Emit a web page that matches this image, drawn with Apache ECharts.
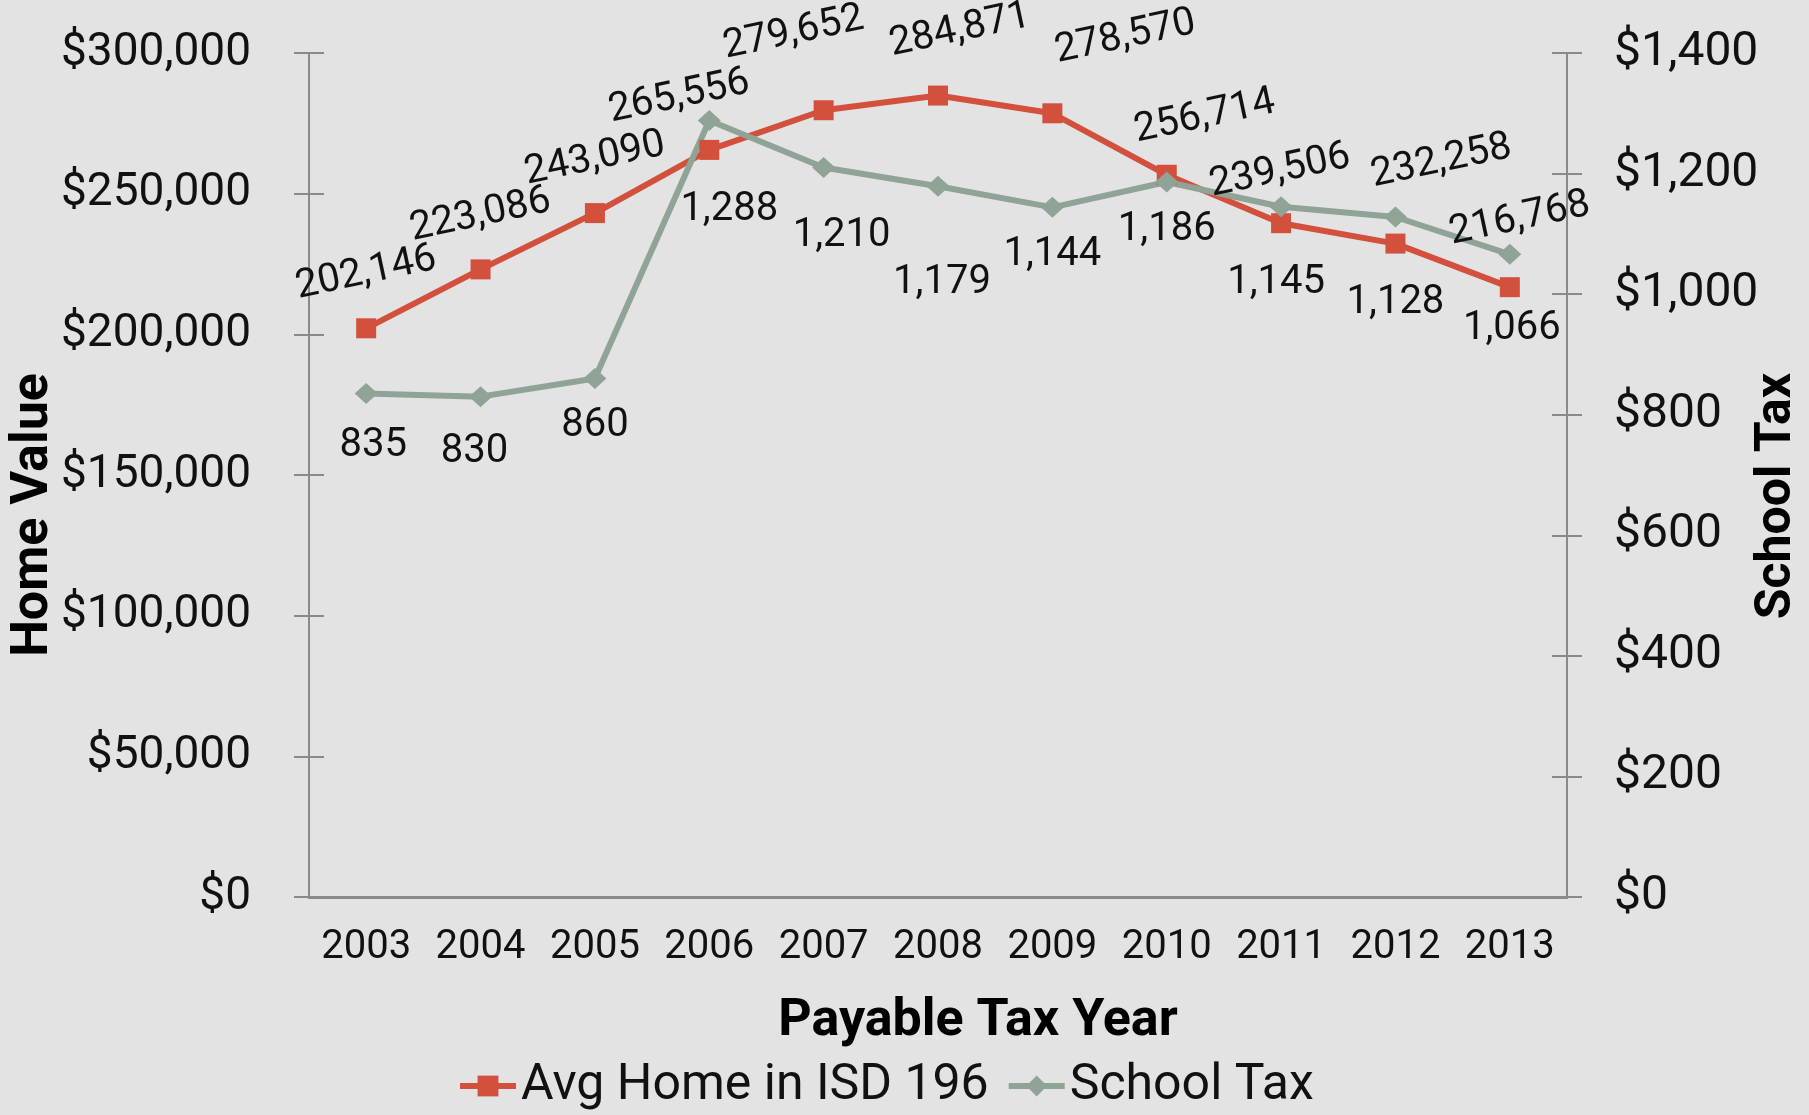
<!DOCTYPE html>
<html>
<head>
<meta charset="utf-8">
<script src="https://cdn.jsdelivr.net/npm/echarts@6/dist/echarts.min.js"></script>
<style>
html, body { margin: 0; padding: 0; background: #e3e3e3; }
#chart { width: 1809px; height: 1115px; }
</style>
</head>
<body>
<div id="chart"></div>
<script>
var years = ['2003', '2004', '2005', '2006', '2007', '2008', '2009', '2010', '2011', '2012', '2013'];
var homeValue = [202146, 223086, 243090, 265556, 279652, 284871, 278570, 256714, 239506, 232258, 216768];
var schoolTax = [835, 830, 860, 1288, 1210, 1179, 1144, 1186, 1145, 1128, 1066];
var homeTicks = [0, 50000, 100000, 150000, 200000, 250000, 300000];
var taxTicks = [0, 200, 400, 600, 800, 1000, 1200, 1400];

// where each data label sits, relative to its point (px)
var homeLabelPos = [[0, -55], [0, -54], [0, -54], [-30, -53], [-30, -77], [22, -65], [73, -76], [38, -58], [-1, -52], [46, -82], [10, -68]];
var taxLabelPos = [[7, 52], [-6, 55], [0, 47], [20, 89], [18, 68], [4, 97], [0, 48], [0, 48], [-5, 76], [0, 86], [2, 75]];

var labelRotate = 12;
var fontFamily = 'Roboto, "Noto Sans", sans-serif';
var axisColor = '#8a8a8a';

function money(v) {
    return '$' + v.toLocaleString('en-US');
}

// offset gets rotated with the label, so undo the rotation first
function unrotate(d, deg) {
    var t = deg * Math.PI / 180;
    return [d[0] * Math.cos(t) - d[1] * Math.sin(t), d[0] * Math.sin(t) + d[1] * Math.cos(t)];
}

var homeData = homeValue.map(function (v, i) {
    return { value: v, label: { offset: unrotate(homeLabelPos[i], labelRotate) } };
});
var taxData = schoolTax.map(function (v, i) {
    return { value: v, label: { offset: taxLabelPos[i] } };
});

var chart = echarts.init(document.getElementById('chart'));

function yAxisBase(ticks) {
    return {
        type: 'value',
        min: ticks[0],
        max: ticks[ticks.length - 1],
        interval: ticks[1] - ticks[0],
        splitLine: { show: false },
        axisLine: { show: true, lineStyle: { color: axisColor, width: 2 } },
        axisTick: { show: true, length: 15, lineStyle: { color: axisColor, width: 2 } }
    };
}

var yHome = yAxisBase(homeTicks);
yHome.position = 'left';
yHome.name = 'Home Value';
yHome.nameLocation = 'middle';
yHome.nameRotate = 90;
yHome.nameGap = 249;
yHome.nameMoveOverlap = false;
yHome.nameTextStyle = { fontFamily: fontFamily, fontSize: 52, fontWeight: 'bold', color: '#000', padding: [0, 80, 0, 0] };
yHome.axisLabel = { formatter: money, fontFamily: fontFamily, fontSize: 46, color: '#111', margin: 58 };

var yTax = yAxisBase(taxTicks);
yTax.position = 'right';
yTax.name = 'School Tax';
yTax.nameLocation = 'middle';
yTax.nameRotate = 90;
yTax.nameGap = 185;
yTax.nameMoveOverlap = false;
yTax.nameTextStyle = { fontFamily: fontFamily, fontSize: 50, fontWeight: 'bold', color: '#000', padding: [0, 42, 0, 0] };
yTax.axisLabel = { formatter: money, fontFamily: fontFamily, fontSize: 48, color: '#111', margin: 47 };

// inner halves of the crossing tick marks
var yHomeIn = yAxisBase(homeTicks);
yHomeIn.position = 'left';
yHomeIn.axisLine = { show: false };
yHomeIn.axisLabel = { show: false };
yHomeIn.axisTick.inside = true;
var yTaxIn = yAxisBase(taxTicks);
yTaxIn.position = 'right';
yTaxIn.axisLine = { show: false };
yTaxIn.axisLabel = { show: false };
yTaxIn.axisTick.inside = true;

var option = {
    backgroundColor: '#e3e3e3',
    animation: false,
    grid: { left: 309, right: 242, top: 53, bottom: 218, containLabel: false, outerBoundsMode: 'none' },
    legend: {
        left: 452,
        top: 1056,
        itemWidth: 56,
        itemHeight: 26,
        itemGap: 17,
        lineStyle: { width: 6 },
        textStyle: { fontFamily: fontFamily, fontSize: 50, color: '#111' },
        data: ['Avg Home in ISD 196', 'School Tax']
    },
    xAxis: [{
        type: 'category',
        data: years,
        boundaryGap: true,
        name: 'Payable Tax Year',
        nameLocation: 'middle',
        nameGap: 99,
        nameMoveOverlap: false,
        nameTextStyle: { fontFamily: fontFamily, fontSize: 52, fontWeight: 'bold', color: '#000', padding: [0, 0, 0, 80] },
        axisLine: { lineStyle: { color: axisColor, width: 3 } },
        axisTick: { length: 13, interval: 0, lineStyle: { color: axisColor, width: 2 } },
        axisLabel: { interval: 0, fontFamily: fontFamily, fontSize: 40, color: '#111', margin: 31 }
    }, {
        type: 'category',
        data: years,
        boundaryGap: true,
        position: 'bottom',
        axisLine: { show: false },
        axisTick: { inside: true, length: 13, interval: 0, lineStyle: { color: axisColor, width: 2 } },
        axisLabel: { show: false }
    }],
    yAxis: [yHome, yTax, yHomeIn, yTaxIn],
    series: [{
        name: 'Avg Home in ISD 196',
        type: 'line',
        yAxisIndex: 0,
        data: homeData,
        symbol: 'rect',
        symbolSize: 20,
        color: '#d2503c',
        lineStyle: { width: 6, color: '#d2503c' },
        itemStyle: { color: '#d2503c' },
        label: {
            show: true,
            position: 'inside',
            rotate: labelRotate,
            formatter: function (p) { return p.value.toLocaleString('en-US'); },
            fontFamily: fontFamily,
            fontSize: 40,
            color: '#111'
        }
    }, {
        name: 'School Tax',
        type: 'line',
        yAxisIndex: 1,
        data: taxData,
        symbol: 'diamond',
        symbolSize: [23, 21],
        color: '#8fa396',
        lineStyle: { width: 6, color: '#8fa396' },
        itemStyle: { color: '#8fa396' },
        label: {
            show: true,
            position: 'inside',
            formatter: function (p) { return p.value.toLocaleString('en-US'); },
            fontFamily: fontFamily,
            fontSize: 40,
            color: '#111'
        }
    }]
};

chart.setOption(option);

window.onresize = function () {
    chart.resize();
};
</script>
</body>
</html>
